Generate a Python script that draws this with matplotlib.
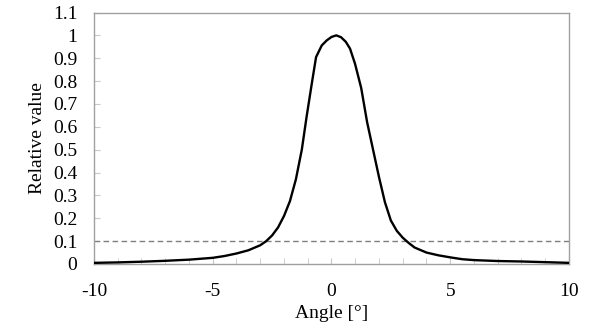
import matplotlib
matplotlib.use("Agg")
import matplotlib.pyplot as plt
from matplotlib.ticker import MultipleLocator

plt.rcParams['font.family'] = ['Liberation Serif', 'DejaVu Serif']
plt.rcParams['axes.unicode_minus'] = False

angles = [-10, -9, -8, -7, -6, -5, -4.5, -4, -3.5, -3, -2.75, -2.5, -2.25, -2,
          -1.75, -1.5, -1.25, -1.05, -0.83, -0.65, -0.41, -0.2, 0, 0.2, 0.4,
          0.6, 0.78, 0.99, 1.25, 1.5, 1.75, 2.0, 2.25, 2.5, 2.75, 3.0, 3.25,
          3.5, 4.0, 4.5, 5.0, 5.5, 6.0, 7.0, 8.0, 9.0, 10.0]
values = [0.005, 0.007, 0.010, 0.014, 0.019, 0.027, 0.035, 0.046, 0.060, 0.082,
          0.100, 0.125, 0.160, 0.210, 0.275, 0.37, 0.50, 0.643, 0.789, 0.905,
          0.956, 0.978, 0.993, 1.0, 0.992, 0.972, 0.942, 0.876, 0.77, 0.62,
          0.50, 0.38, 0.27, 0.19, 0.145, 0.115, 0.092, 0.072, 0.05, 0.038,
          0.029, 0.021, 0.017, 0.013, 0.011, 0.008, 0.005]
threshold = 0.1
x_ticks = [-10, -5, 0, 5, 10]
x_tick_labels = ['-10', '-5', '0', '5', '10']
y_ticks = [0, 0.1, 0.2, 0.3, 0.4, 0.5, 0.6, 0.7, 0.8, 0.9, 1.0, 1.1]
y_tick_labels = ['0', '0.1', '0.2', '0.3', '0.4', '0.5', '0.6', '0.7', '0.8', '0.9', '1', '1.1']

fig = plt.figure(figsize=(5.89, 3.30), dpi=100)
ax = fig.add_axes([94/589, 66/330, 475/589, 251.5/330])

ax.axhline(threshold, color='#7f7f7f', lw=1.0, ls=(0, (4, 2.5)), zorder=2)
ax.plot(angles, values, color='black', lw=1.7, zorder=3, solid_joinstyle='round')

ax.set_xlim(-10, 10)
ax.set_ylim(0, 1.1)
ax.set_xticks(x_ticks)
ax.set_xticklabels(x_tick_labels)
ax.xaxis.set_minor_locator(MultipleLocator(1))
ax.set_yticks(y_ticks)
ax.set_yticklabels(y_tick_labels)

for s in ax.spines.values():
    s.set_color('#a0a0a0')
    s.set_linewidth(1.0)

ax.tick_params(axis='x', which='major', direction='in', length=4, color='#c8c8c8',
               labelsize=14, pad=14)
ax.tick_params(axis='x', which='minor', direction='in', length=4, color='#c8c8c8')
ax.tick_params(axis='y', which='major', direction='in', length=4, color='#c8c8c8',
               labelsize=14, pad=12)

ax.set_xlabel('Angle [°]', fontsize=14, labelpad=3)
ax.set_ylabel('Relative value', fontsize=14, labelpad=5)

fig.savefig('out.png', dpi=100)
